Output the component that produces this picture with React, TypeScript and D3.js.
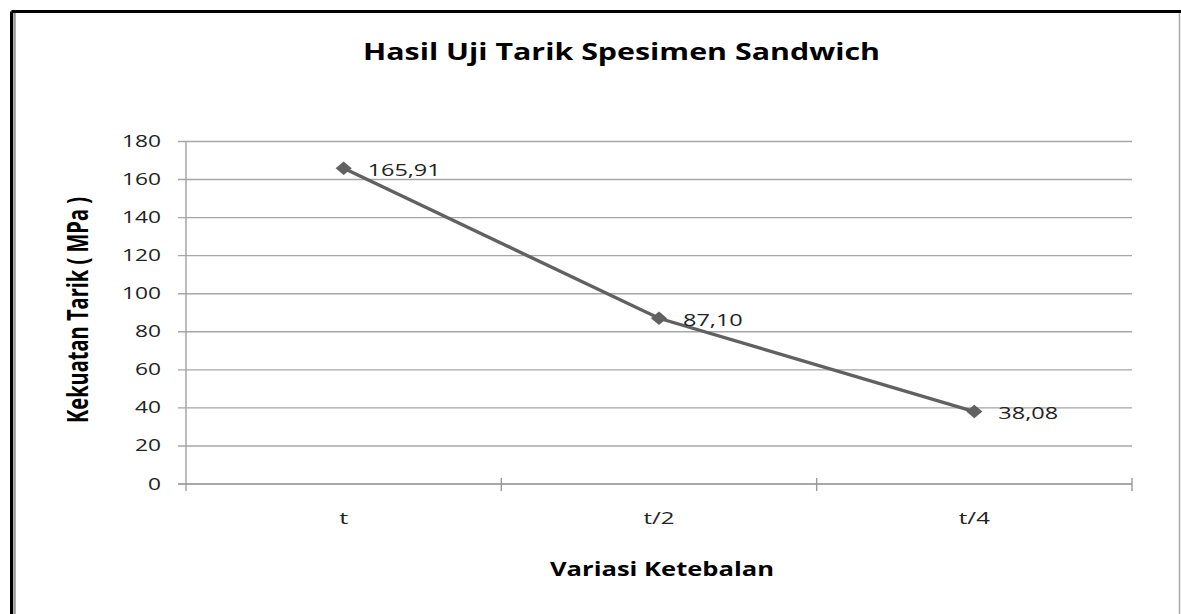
import React from "react";
import * as d3 from "d3";

const categories = ["t", "t/2", "t/4"];
const values = [165.91, 87.1, 38.08];
const valueLabels = ["165,91", "87,10", "38,08"];
const yTicks = [0, 20, 40, 60, 80, 100, 120, 140, 160, 180];

const W = 1181;
const H = 614;
const plot = { left: 186, right: 1132, top: 141.5, bottom: 484 };
const FONT = "'Open Sans', 'DejaVu Sans', sans-serif";

// horizontal width of stretched text (reference image is stretched horizontally)
const strWidth = (s: string, digit: number, comma: number) =>
  s.split("").reduce((a, ch) => a + (ch === "," ? comma : digit), 0);

export default function App() {
  const x = d3.scaleBand<string>().domain(categories).range([plot.left, plot.right]).padding(0);
  const y = d3.scaleLinear().domain([0, 180]).range([plot.bottom, plot.top]);
  const cx = (c: string) => (x(c) as number) + x.bandwidth() / 2;
  const line = d3
    .line<number>()
    .x((_, i) => cx(categories[i]))
    .y((d) => y(d));
  const catBounds = categories.map((c) => (x(c) as number) + x.bandwidth());
  const diamond = d3.symbol().type(d3.symbolDiamond2).size(115)() as string;

  return (
    <svg
      width={W}
      height={H}
      style={{ position: "absolute", left: 0, top: 0, background: "#fff" }}
    >
      <rect x={0} y={0} width={W} height={H} fill="#fff" />
      {/* frame */}
      <line x1={11.5} y1={11.5} x2={W} y2={11.5} stroke="#000" strokeWidth={3} />
      <line x1={11.5} y1={11.5} x2={11.5} y2={H} stroke="#000" strokeWidth={3} />
      <line x1={14.5} y1={13} x2={14.5} y2={H} stroke="#999" strokeWidth={2.5} />
      <line x1={1179.5} y1={13} x2={1179.5} y2={H} stroke="#aaa" strokeWidth={1.5} />

      {/* title */}
      <text
        x={621.5}
        y={60}
        textAnchor="middle"
        fontFamily={FONT}
        fontWeight="bold"
        fontSize={23}
        textLength={517}
        lengthAdjust="spacingAndGlyphs"
        fill="#000"
      >
        Hasil Uji Tarik Spesimen Sandwich
      </text>

      {/* gridlines */}
      {yTicks.map((t) => (
        <g key={t}>
          <line
            x1={plot.left - 8}
            x2={plot.right}
            y1={y(t)}
            y2={y(t)}
            stroke={t === 0 ? "#8c8c8c" : "#a6a6a6"}
            strokeWidth={1.4}
          />
          <text
            x={161}
            y={y(t) + 5.5}
            textAnchor="end"
            fontFamily={FONT}
            fontSize={15.5}
            textLength={strWidth(String(t), 13, 6)}
            lengthAdjust="spacingAndGlyphs"
            fill="#222"
          >
            {t}
          </text>
        </g>
      ))}
      {/* y axis */}
      <line x1={plot.left} x2={plot.left} y1={plot.top} y2={plot.bottom + 7} stroke="#a0a0a0" strokeWidth={1.4} />
      {/* x ticks */}
      {catBounds.map((b, i) => (
        <line key={i} x1={b} x2={b} y1={plot.bottom - 6} y2={plot.bottom + 7} stroke="#999" strokeWidth={1.4} />
      ))}
      {categories.map((c) => (
        <text
          key={c}
          x={cx(c)}
          y={524}
          textAnchor="middle"
          fontFamily={FONT}
          fontSize={16}
          textLength={c.length === 1 ? 9 : 31}
          lengthAdjust="spacingAndGlyphs"
          fill="#222"
        >
          {c}
        </text>
      ))}

      {/* axis titles */}
      <text
        x={662}
        y={576}
        textAnchor="middle"
        fontFamily={FONT}
        fontWeight="bold"
        fontSize={20}
        textLength={224}
        lengthAdjust="spacingAndGlyphs"
        fill="#000"
      >
        Variasi Ketebalan
      </text>
      <text
        transform={`translate(88,310) scale(1.4,1) rotate(-90)`}
        textAnchor="middle"
        fontFamily={FONT}
        fontWeight="bold"
        fontSize={20}
        textLength={226}
        lengthAdjust="spacingAndGlyphs"
        fill="#000"
      >
        Kekuatan Tarik ( MPa )
      </text>

      {/* series */}
      <path d={line(values) as string} fill="none" stroke="#616161" strokeWidth={3.4} />
      {values.map((v, i) => (
        <g key={i}>
          <path
            d={diamond}
            transform={`translate(${cx(categories[i])},${y(v)}) scale(1.2,1)`}
            fill="#616161"
          />
          <text
            x={cx(categories[i]) + 24}
            y={y(v) + 7.6}
            fontFamily={FONT}
            fontSize={17}
            textLength={strWidth(valueLabels[i], 13.2, 7)}
            lengthAdjust="spacingAndGlyphs"
            fill="#222"
          >
            {valueLabels[i]}
          </text>
        </g>
      ))}
    </svg>
  );
}
